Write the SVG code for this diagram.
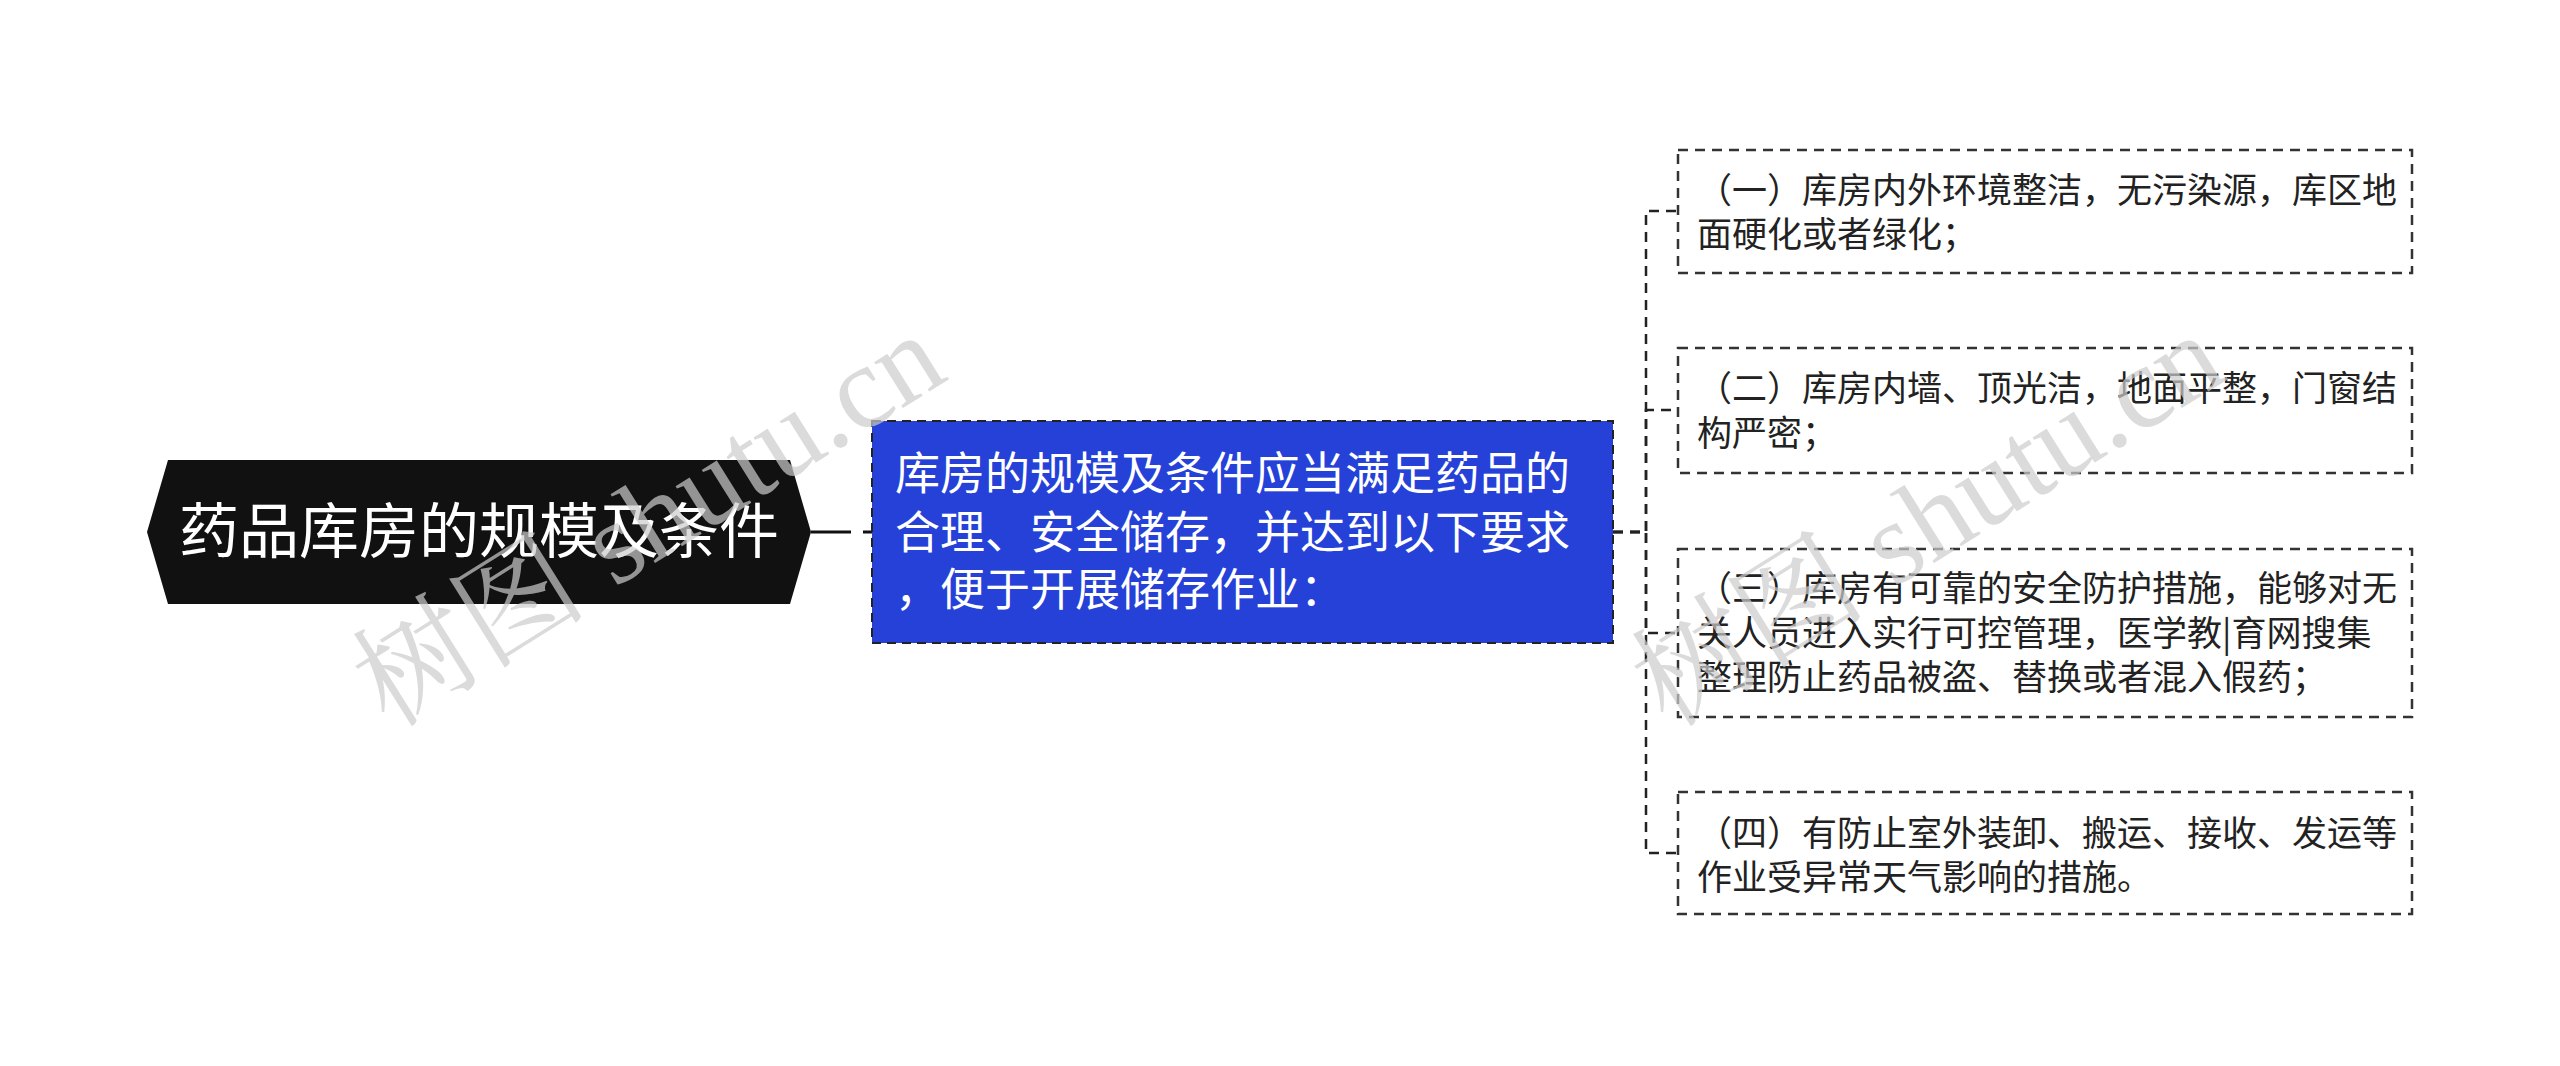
<svg xmlns="http://www.w3.org/2000/svg" width="2560" height="1066" viewBox="0 0 2560 1066">
<style>
text{font-family:"Noto Sans CJK SC","Liberation Sans",sans-serif;}
.root{fill:#111111;}
.rootT{fill:#ffffff;font-size:60px;}
.main{fill:#2541d8;stroke:#222;stroke-width:2;stroke-dasharray:9 6;}
.mainT{fill:#ffffff;font-size:45px;}
.leaf{fill:#ffffff;stroke:#333;stroke-width:2.5;stroke-dasharray:10 7;}
.leafT{fill:#222;font-size:35px;}
.conn{fill:none;stroke:#222;stroke-width:2.5;stroke-dasharray:10 7;}
.wm{fill:#cccccc;opacity:0.7;font-family:"Liberation Serif","Noto Serif CJK SC","Noto Sans CJK SC",serif;font-size:118px;}
</style>
<rect width="2560" height="1066" fill="#ffffff"/>
<g id="connectors">
<line x1="811" y1="532" x2="872" y2="532" stroke="#111" stroke-width="3" stroke-dasharray="40 12"/>
<path class="conn" d="M1613 532 H1646 V211 H1678"/>
<path class="conn" d="M1613 532 H1646 V410 H1678"/>
<path class="conn" d="M1613 532 H1646 V633 H1678"/>
<path class="conn" d="M1613 532 H1646 V853 H1678"/>
</g>
<g id="root">
<polygon class="root" points="147,532 168,460 790,460 811,532 790,604 168,604"/>
<text class="rootT" x="479" y="553" text-anchor="middle">药品库房的规模及条件</text>
</g>
<g id="main">
<rect class="main" x="872" y="421" width="741" height="222"/>
<text class="mainT" x="895" y="490">库房的规模及条件应当满足药品的</text>
<text class="mainT" x="895" y="549">合理、安全储存，并达到以下要求</text>
<text class="mainT" x="895" y="606">，便于开展储存作业：</text>
</g>
<g id="leaf1">
<rect class="leaf" x="1678" y="150" width="734" height="123"/>
<text class="leafT" x="1697" y="203">（一）库房内外环境整洁，无污染源，库区地</text>
<text class="leafT" x="1697" y="247">面硬化或者绿化；</text>
</g>
<g id="leaf2">
<rect class="leaf" x="1678" y="348" width="734" height="125"/>
<text class="leafT" x="1697" y="401">（二）库房内墙、顶光洁，地面平整，门窗结</text>
<text class="leafT" x="1697" y="446">构严密；</text>
</g>
<g id="leaf3">
<rect class="leaf" x="1678" y="549" width="734" height="168"/>
<text class="leafT" x="1697" y="601">（三）库房有可靠的安全防护措施，能够对无</text>
<text class="leafT" x="1697" y="646">关人员进入实行可控管理，医学教|育网搜集</text>
<text class="leafT" x="1697" y="690">整理防止药品被盗、替换或者混入假药；</text>
</g>
<g id="leaf4">
<rect class="leaf" x="1678" y="792" width="734" height="122"/>
<text class="leafT" x="1697" y="846">（四）有防止室外装卸、搬运、接收、发运等</text>
<text class="leafT" x="1697" y="890">作业受异常天气影响的措施。</text>
</g>
<g id="watermarks">
<text class="wm" x="648" y="560" text-anchor="middle" transform="rotate(-32 648 519)">树图 shutu.cn</text>
<text class="wm" x="1927" y="560" text-anchor="middle" transform="rotate(-32 1927 519)">树图 shutu.cn</text>
</g>
</svg>
